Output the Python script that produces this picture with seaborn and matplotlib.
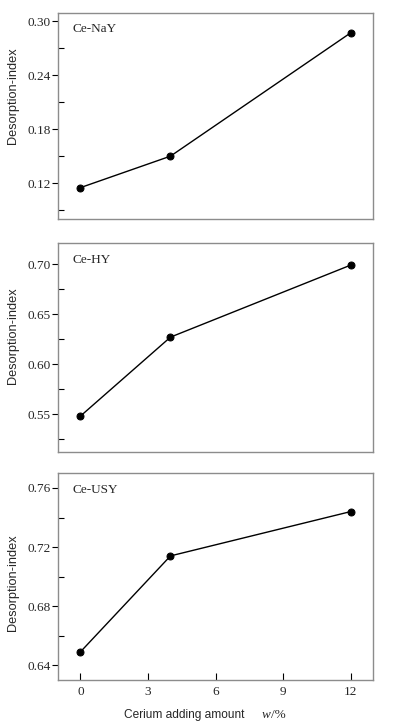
import pandas as pd
import matplotlib
matplotlib.use("Agg")
import matplotlib.pyplot as plt
import seaborn as sns
from matplotlib.ticker import MultipleLocator

# Datos
cerio = [0, 4, 12]
ce_nay = [0.115, 0.150, 0.287]
ce_hy = [0.548, 0.627, 0.699]
ce_usy = [0.649, 0.714, 0.744]

paneles = [
    ("Ce-NaY", ce_nay, (0.08, 0.309), 0.06, [0.12, 0.18, 0.24, 0.30], 0.60),
    ("Ce-HY", ce_hy, (0.512, 0.721), 0.05, [0.55, 0.60, 0.65, 0.70], 0.555),
    ("Ce-USY", ce_usy, (0.630, 0.770), 0.04, [0.64, 0.68, 0.72, 0.76], 0.47),
]

sns.set_style("ticks")
plt.rcParams['font.family'] = ['Liberation Serif', 'DejaVu Serif']

fig = plt.figure(figsize=(3.94, 7.28), dpi=100)
posiciones = [
    [0.147, 0.699, 0.800, 0.283],
    [0.147, 0.379, 0.800, 0.287],
    [0.147, 0.066, 0.800, 0.284],
]

for (nombre, valores, ylim, paso, yticks, ylab_y), pos in zip(paneles, posiciones):
    ax = fig.add_axes(pos)
    df = pd.DataFrame({'x': cerio, 'y': valores})
    sns.lineplot(data=df, x='x', y='y', ax=ax, color='black', linewidth=1.0,
                 marker='o', markersize=5, markeredgecolor='black')
    ax.set_xlim(-1, 13)
    ax.set_ylim(*ylim)
    ax.set_yticks(yticks)
    ax.set_yticklabels([f"{v:.2f}" for v in yticks])
    ax.yaxis.set_minor_locator(MultipleLocator(paso / 2))
    ax.set_xticks([0, 3, 6, 9, 12])
    for s in ax.spines.values():
        s.set_color('#8c8c8c')
        s.set_linewidth(1.0)
    ax.tick_params(axis='y', which='major', direction='out', length=4,
                   width=0.8, color='black', labelsize=9.5, pad=1)
    ax.tick_params(axis='y', which='minor', direction='in', length=4,
                   width=0.8, color='black')
    ax.tick_params(axis='x', which='major', direction='in', length=5,
                   width=0.8, color='black', labelsize=9.5, pad=4)
    ax.text(0.045, 0.95, nombre, transform=ax.transAxes, ha='left', va='top',
            fontsize=9.5)
    ax.set_ylabel('Desorption-index', family=['Liberation Sans', 'DejaVu Sans'],
                  fontsize=9.2)
    ax.yaxis.set_label_coords(-0.124, ylab_y)
    ax.set_xlabel('')
    if nombre != "Ce-USY":
        ax.set_xticks([])
        ax.tick_params(axis='x', which='both', bottom=False, labelbottom=False)

fig.text(0.315, 0.018, 'Cerium adding amount', family=['Liberation Sans', 'DejaVu Sans'],
         fontsize=8.6, ha='left', va='center')
fig.text(0.663, 0.018, 'w', style='italic', fontsize=9.5, ha='left', va='center')
fig.text(0.689, 0.018, '/%', fontsize=9.5, ha='left', va='center')

fig.savefig('out.png', dpi=100)
